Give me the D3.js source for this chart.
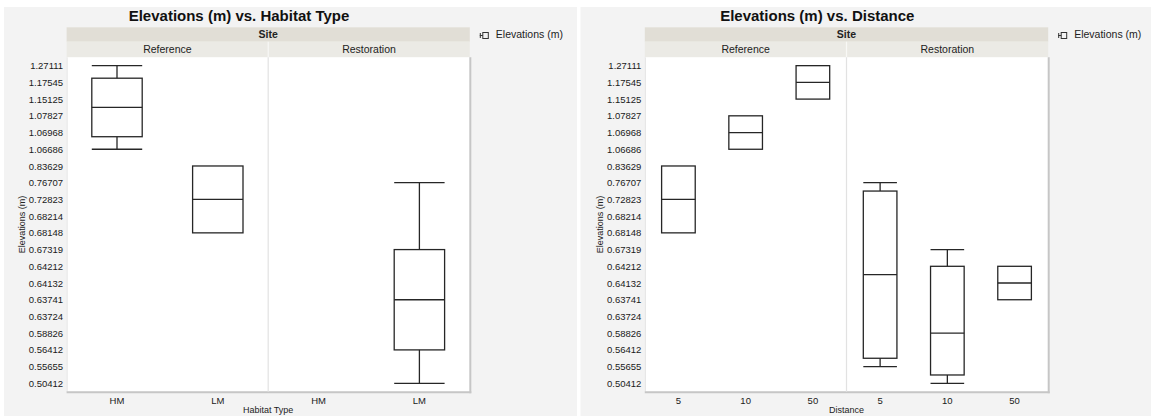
<!DOCTYPE html>
<html>
<head>
<meta charset="utf-8">
<script src="https://cdn.jsdelivr.net/npm/d3@7/dist/d3.min.js"></script>
<style>
  html, body { margin: 0; padding: 0; background: #ffffff; }
  svg { display: block; font-family: "Liberation Sans", Arial, Helvetica, sans-serif; }
</style>
</head>
<body>
<svg id="chart" width="1151" height="417"></svg>
<script>
// Elevation levels as they appear on the nominal Y axis (top to bottom)
const elevationLevels = [
  "1.27111", "1.17545", "1.15125", "1.07827", "1.06968", "1.06686",
  "0.83629", "0.76707", "0.72823", "0.68214", "0.68148", "0.67319",
  "0.64212", "0.64132", "0.63741", "0.63724", "0.58826", "0.56412",
  "0.55655", "0.50412"
];

// Site facets and X categories
const sites = ["Reference", "Restoration"];
const habitatTypes = ["HM", "LM"];
const distances = ["5", "10", "50"];

// Survey observations (one entry per sample point)
const obsSite = [
  "Reference", "Reference", "Reference",
  "Reference", "Reference", "Reference",
  "Reference", "Reference", "Reference",
  "Restoration", "Restoration", "Restoration", "Restoration",
  "Restoration", "Restoration", "Restoration", "Restoration",
  "Restoration", "Restoration", "Restoration"
];
const obsDistance = [
  "50", "50", "50",
  "10", "10", "10",
  "5", "5", "5",
  "5", "5", "5", "5",
  "10", "10", "10", "10",
  "50", "50", "50"
];
const obsHabitat = [
  "HM", "HM", "HM",
  "HM", "HM", "HM",
  "LM", "LM", "LM",
  "LM", "LM", "LM", "LM",
  "LM", "LM", "LM", "LM",
  "LM", "LM", "LM"
];
const obsElevation = [
  "1.27111", "1.17545", "1.15125",
  "1.07827", "1.06968", "1.06686",
  "0.83629", "0.72823", "0.68148",
  "0.76707", "0.68214", "0.58826", "0.55655",
  "0.67319", "0.63724", "0.56412", "0.50412",
  "0.64212", "0.64132", "0.63741"
];

const observations = obsSite.map((s, i) => ({
  site: s,
  distance: obsDistance[i],
  habitat: obsHabitat[i],
  elevation: obsElevation[i]
}));

// Quantile on sorted values using the p*(n+1) rule
function quantile(sorted, p) {
  const n = sorted.length;
  const pos = p * (n + 1);
  if (pos <= 1) return sorted[0];
  if (pos >= n) return sorted[n - 1];
  const lo = Math.floor(pos), frac = pos - lo;
  return sorted[lo - 1] + frac * (sorted[lo] - sorted[lo - 1]);
}

// Box statistics on the rank of each level along the nominal axis
function boxStats(values) {
  const ranks = values.map(v => elevationLevels.indexOf(v)).sort((a, b) => a - b);
  const q1 = quantile(ranks, 0.25), med = quantile(ranks, 0.5), q3 = quantile(ranks, 0.75);
  const iqr = q3 - q1;
  const lowFence = q1 - 1.5 * iqr, highFence = q3 + 1.5 * iqr;
  const inside = ranks.filter(r => r >= lowFence && r <= highFence);
  return { q1, med, q3, lo: d3.min(inside), hi: d3.max(inside) };
}

const svg = d3.select("#chart");
const FONT = "'Liberation Sans', Arial, Helvetica, sans-serif";

const plotTop = 57.3, plotBottom = 391.7;
const stripTop = 27.3, stripMid = 41.7;

function drawGraph(cfg) {
  const { bgX0, bgX1, left, right, title, xKey, xCats, xTitle } = cfg;
  const g = svg.append("g");

  // panel background
  g.append("rect").attr("x", bgX0).attr("y", 7).attr("width", bgX1 - bgX0).attr("height", 409)
    .attr("fill", "#f3f3f3");

  // title centred over the frame including the Y labels
  g.append("text").attr("x", (left - 58.4 + right) / 2).attr("y", 21)
    .attr("text-anchor", "middle").attr("font-size", 15).attr("font-weight", "bold")
    .attr("fill", "#111").text(title);

  // facet strips
  const siteScale = d3.scaleBand().domain(sites).range([left, right]);
  g.append("rect").attr("x", left).attr("y", stripTop).attr("width", right - left)
    .attr("height", stripMid - stripTop).attr("fill", "#e1ded6");
  g.append("text").attr("x", (left + right) / 2).attr("y", stripMid - 3.6)
    .attr("text-anchor", "middle").attr("font-size", 10.5).attr("font-weight", "bold")
    .attr("fill", "#222").text("Site");
  g.append("rect").attr("x", left).attr("y", stripMid).attr("width", right - left)
    .attr("height", plotTop - stripMid).attr("fill", "#ebeae5");
  sites.forEach(s => {
    g.append("text").attr("x", siteScale(s) + siteScale.bandwidth() / 2).attr("y", stripMid + 11.6)
      .attr("text-anchor", "middle").attr("font-size", 10.5).attr("fill", "#222").text(s);
  });
  g.append("line").attr("x1", siteScale(sites[1])).attr("x2", siteScale(sites[1]))
    .attr("y1", stripMid).attr("y2", plotTop).attr("stroke", "#f8f8f6").attr("stroke-width", 1.2);

  // plot frame
  g.append("rect").attr("x", left).attr("y", plotTop).attr("width", right - left)
    .attr("height", plotBottom - plotTop).attr("fill", "#ffffff");
  g.append("line").attr("x1", left + 0.5).attr("x2", left + 0.5).attr("y1", plotTop).attr("y2", plotBottom)
    .attr("stroke", "#e2e2e2").attr("stroke-width", 1);
  g.append("line").attr("x1", right + 0.5).attr("x2", right + 0.5).attr("y1", plotTop).attr("y2", plotBottom + 1.5)
    .attr("stroke", "#c6c6c6").attr("stroke-width", 2);
  g.append("line").attr("x1", left).attr("x2", right + 1.5).attr("y1", plotBottom + 0.5).attr("y2", plotBottom + 0.5)
    .attr("stroke", "#c6c6c6").attr("stroke-width", 2);
  g.append("line").attr("x1", siteScale(sites[1])).attr("x2", siteScale(sites[1]))
    .attr("y1", plotTop).attr("y2", plotBottom).attr("stroke", "#e2e2e2").attr("stroke-width", 1.2);

  // Y: nominal levels, plus a rank scale for box statistics
  const n = elevationLevels.length;
  const yRank = d3.scaleLinear().domain([-0.5, n - 0.5]).range([plotTop, plotBottom]);
  const yPoint = d3.scalePoint().domain(elevationLevels).range([yRank(0), yRank(n - 1)]);
  const yAxis = g.append("g").attr("transform", `translate(${left - 0.5},0)`)
    .call(d3.axisLeft(yPoint).tickSize(0).tickPadding(3));
  yAxis.select(".domain").remove();
  yAxis.selectAll("text").attr("font-size", 9.5).attr("font-family", FONT).attr("fill", "#1a1a1a");

  g.append("text")
    .attr("transform", `translate(${left - 42},${(plotTop + plotBottom) / 2}) rotate(-90)`)
    .attr("text-anchor", "middle").attr("font-size", 9).attr("fill", "#222").text("Elevations (m)");

  // X: categories nested in each site
  sites.forEach(s => {
    const x = d3.scaleBand().domain(xCats).range([siteScale(s), siteScale(s) + siteScale.bandwidth()]);
    const xAxis = g.append("g").attr("transform", `translate(0,${plotBottom + 1})`)
      .call(d3.axisBottom(x).tickSize(0).tickPadding(5));
    xAxis.select(".domain").remove();
    xAxis.selectAll("text").attr("font-size", 9.5).attr("font-family", FONT).attr("fill", "#1a1a1a");

    const boxW = x.bandwidth() * 0.5;
    xCats.forEach(c => {
      const vals = observations.filter(o => o.site === s && o[xKey] === c).map(o => o.elevation);
      if (!vals.length) return;
      const st = boxStats(vals);
      const cx = x(c) + x.bandwidth() / 2;
      const x0 = cx - boxW / 2, x1 = cx + boxW / 2;
      const bg = g.append("g").attr("stroke", "#262626").attr("stroke-width", 1.3).attr("fill", "none");
      // whiskers and caps
      if (st.hi > st.q3) {
        bg.append("line").attr("x1", cx).attr("x2", cx).attr("y1", yRank(st.q3)).attr("y2", yRank(st.hi));
        bg.append("line").attr("x1", x0).attr("x2", x1).attr("y1", yRank(st.hi)).attr("y2", yRank(st.hi));
      }
      if (st.lo < st.q1) {
        bg.append("line").attr("x1", cx).attr("x2", cx).attr("y1", yRank(st.q1)).attr("y2", yRank(st.lo));
        bg.append("line").attr("x1", x0).attr("x2", x1).attr("y1", yRank(st.lo)).attr("y2", yRank(st.lo));
      }
      // box (Q1 to Q3) and median
      bg.append("rect").attr("x", x0).attr("y", yRank(st.q1))
        .attr("width", boxW).attr("height", yRank(st.q3) - yRank(st.q1));
      bg.append("line").attr("x1", x0).attr("x2", x1).attr("y1", yRank(st.med)).attr("y2", yRank(st.med));
    });
  });

  g.append("text").attr("x", (left + right) / 2).attr("y", 413)
    .attr("text-anchor", "middle").attr("font-size", 9).attr("fill", "#222").text(xTitle);

  // legend
  const lx = right + 10, ly = 35.5;
  const lg = g.append("g").attr("stroke", "#333").attr("stroke-width", 1).attr("fill", "none");
  lg.append("line").attr("x1", lx + 0.5).attr("x2", lx + 0.5).attr("y1", ly - 2.5).attr("y2", ly + 2.5);
  lg.append("line").attr("x1", lx).attr("x2", lx + 3).attr("y1", ly).attr("y2", ly);
  lg.append("rect").attr("x", lx + 3).attr("y", ly - 3).attr("width", 5.5).attr("height", 6);
  g.append("text").attr("x", right + 26).attr("y", 38.3).attr("font-size", 10.5)
    .attr("fill", "#222").text("Elevations (m)");
}

drawGraph({
  bgX0: 4, bgX1: 577, left: 66.6, right: 469.8,
  title: "Elevations (m) vs. Habitat Type", xKey: "habitat", xCats: habitatTypes, xTitle: "Habitat Type"
});
drawGraph({
  bgX0: 580.5, bgX1: 1151, left: 644.8, right: 1048.2,
  title: "Elevations (m) vs. Distance", xKey: "distance", xCats: distances, xTitle: "Distance"
});
</script>
</body>
</html>
